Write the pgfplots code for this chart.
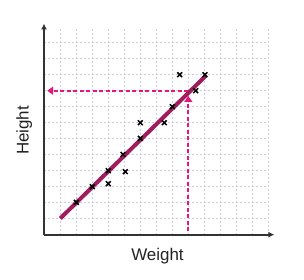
\documentclass[border=0pt]{standalone}
\usepackage{fontspec}
\setmainfont{Liberation Sans}
\usepackage{pgfplots}
\pgfplotsset{compat=1.18}
\usetikzlibrary{arrows.meta}
\definecolor{axisgray}{RGB}{51,51,51}
\definecolor{textc}{RGB}{34,34,34}
\definecolor{gridc}{RGB}{208,202,228}
\definecolor{fitc}{RGB}{160,28,92}
\definecolor{pinkc}{RGB}{232,22,124}
\begin{document}
\begin{tikzpicture}
\useasboundingbox (0,0) rectangle (304bp,280bp);
\begin{axis}[
  at={(44bp,45.3bp)}, anchor=south west,
  scale only axis, width=224bp, height=208bp,
  xmin=0, xmax=14, ymin=0, ymax=13,
  axis line style={draw=none},
  xtick={1,...,14}, ytick={1,...,12},
  xticklabels={}, yticklabels={}, major tick length=0pt,
  grid=major,
  major grid style={gridc, line width=0.9bp, dash pattern=on 2bp off 2bp},
  clip=false,
]
\addplot[pinkc, line width=2.2bp, dash pattern=on 4bp off 2.5bp, -{Triangle[length=6bp,width=8bp]}]
  coordinates {(9.0,9.0) (0.2,9.0)};
\addplot[pinkc, line width=2.2bp, dash pattern=on 4bp off 2.5bp, -{Triangle[length=6bp,width=8bp]}]
  coordinates {(9.02,0.2) (9.02,8.67)};
\addplot[fitc, line width=4bp] coordinates {(1.02,1.02) (10.1,9.92)};
\addplot[only marks, mark=x, mark size=3.4bp, black, mark options={line width=1.5bp}] coordinates {
  (2.02,2.02) (3.02,3.0) (4.02,4.0) (4.02,3.19) (4.94,5.02) (5.08,3.94)
  (6.02,6.02) (6.02,7.0) (7.52,7.0) (8.02,8.0) (8.48,10.0) (9.48,9.0) (10.06,10.0)
};
\draw[axisgray, line width=2.2bp, -{Latex[length=6bp,width=6bp]}] (axis cs:0,0) -- (axis cs:14.4,0);
\draw[axisgray, line width=2.2bp, -{Latex[length=6bp,width=6bp]}] (axis cs:0,0) -- (axis cs:0,13.2);
\end{axis}
\node[font=\fontsize{17}{20}\selectfont, anchor=base, text=textc] at (157.5bp,20bp) {Weight};
\node[font=\fontsize{17}{20}\selectfont, anchor=base, rotate=90, text=textc] at (28.5bp,149.5bp) {Height};
\end{tikzpicture}
\end{document}
